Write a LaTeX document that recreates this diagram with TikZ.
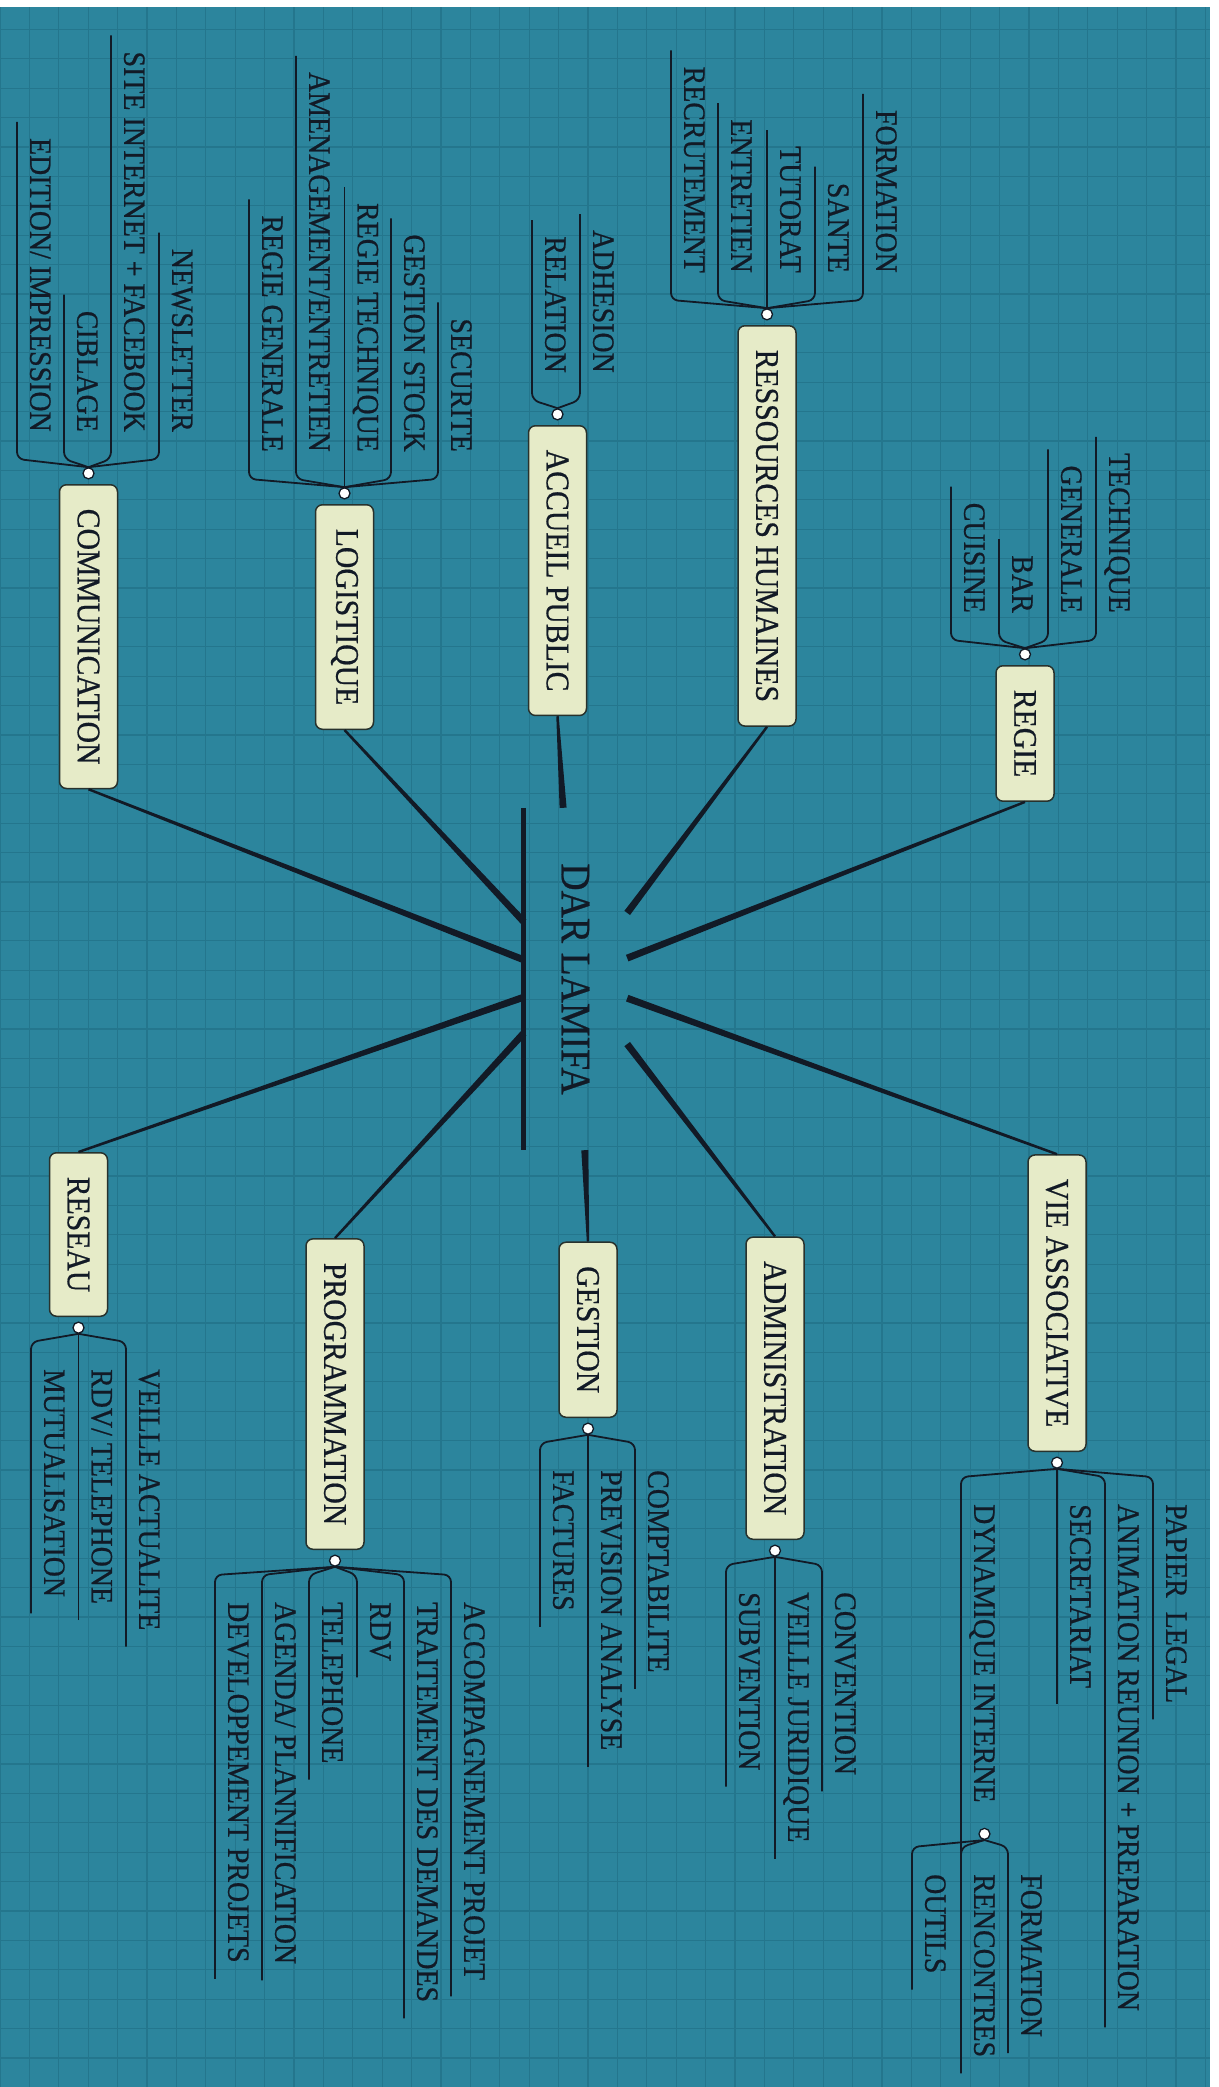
\documentclass[tikz,border=0pt]{standalone}
\usepackage{fontspec}
\setmainfont[FakeStretch=0.9,FakeBold=0.6]{Liberation Serif}
\usetikzlibrary{positioning,calc}
\definecolor{sea}{RGB}{44,133,157}
\definecolor{seagrid}{RGB}{36,118,141}
\definecolor{ink}{RGB}{18,26,38}
\definecolor{boxfill}{RGB}{230,235,200}
\definecolor{boxline}{RGB}{40,50,45}

\begin{document}
\begin{tikzpicture}[
    x=1pt,y=1pt,
    topic/.style={draw=boxline,fill=boxfill,rounded corners=7pt,line width=1.5pt,minimum height=58pt,inner xsep=24pt,text=ink,font=\fontsize{33}{35}\selectfont},
    leaf/.style={inner xsep=16pt,inner ysep=13pt,text depth=0pt,text=ink,font=\fontsize{31}{33}\selectfont},
    knob/.style={circle,draw=ink,fill=white,line width=1.3pt,minimum size=11pt,inner sep=0pt},
    twig/.style={draw=ink,line width=1.8pt,rounded corners=7pt},
    leafL/.style={to path={(\tikztotarget.south west) -- ($(\tikztotarget.south east)!-11pt!(\tikztotarget.south west)$) -- (\tikztostart)}},
    leafR/.style={to path={(\tikztotarget.south east) -- ($(\tikztotarget.south west)!-11pt!(\tikztotarget.south east)$) -- (\tikztostart)}},
    spoke/.style={fill=ink,to path={($(\tikztostart)!1.2pt!90:(\tikztotarget)$) -- ($(\tikztotarget)!3.5pt!-90:(\tikztostart)$) -- ($(\tikztotarget)!3.5pt!90:(\tikztostart)$) -- ($(\tikztostart)!1.2pt!-90:(\tikztotarget)$) -- cycle}},
    hub/.style={minimum width=342pt,minimum height=103pt,inner sep=0pt,text=ink,font=\fontsize{42}{44}\selectfont},
  ]
  \useasboundingbox (0,0) rectangle (1218,-2087);
  \fill[white] (0,0) rectangle (1218,-2087);
  \fill[sea] (0,-7) rectangle (1210,-2087);
  \draw[seagrid,line width=1.2pt,step=29.4pt] (0,-7) grid (1210,-2087);

  % the map is laid out left to right, then turned
  \begin{scope}[rotate=-90,transform shape]
  \node[hub] (hub) at (979,575.5) {DAR LAMIFA};
  \draw[ink,line width=5pt] (hub.south west) -- (hub.south east);

  \node[topic,anchor=west] (comm) at (484,88.5) {COMMUNICATION};
  \node[topic,anchor=west] (logi) at (504,344.5) {LOGISTIQUE};
  \node[topic,anchor=west] (accu) at (425,557.5) {ACCUEIL PUBLIC};
  \node[topic,anchor=west] (rh) at (325,767) {RESSOURCES HUMAINES};
  \node[topic,anchor=west] (regie) at (665,1025) {REGIE};
  \node[topic,anchor=east] (vie) at (1452,1057) {VIE ASSOCIATIVE};
  \node[topic,anchor=east] (admin) at (1540,775) {ADMINISTRATION};
  \node[topic,anchor=east] (gest) at (1418,588) {GESTION};
  \node[topic,anchor=east] (prog) at (1550,335) {PROGRAMMATION};
  \node[topic,anchor=east] (reseau) at (1317,78.5) {RESEAU};

  \coordinate (pcomm) at ($(hub.south west)!.444!(hub.south east)$);
  \coordinate (plogi) at ($(hub.south west)!.333!(hub.south east)$);
  \coordinate (preseau) at ($(hub.south west)!.553!(hub.south east)$);
  \coordinate (pprog) at ($(hub.south west)!.658!(hub.south east)$);
  \coordinate (prh) at ($(hub.north west)!.307!(hub.north east)$);
  \coordinate (pregie) at ($(hub.north west)!.439!(hub.north east)$);
  \coordinate (pvie) at ($(hub.north west)!.556!(hub.north east)$);
  \coordinate (padmin) at ($(hub.north west)!.69!(hub.north east)$);
  \coordinate (paccu) at ($(hub.south west)!.38!(hub.north west)$);
  \coordinate (pgest) at ($(hub.south east)!.59!(hub.north east)$);

  \path[spoke] (comm.east) to (pcomm);
  \path[spoke] (logi.east) to (plogi);
  \path[spoke] (accu.east) to (paccu);
  \path[spoke] (rh.east) to (prh);
  \path[spoke] (regie.east) to (pregie);
  \path[spoke] (reseau.west) to (preseau);
  \path[spoke] (prog.west) to (pprog);
  \path[spoke] (gest.west) to (pgest);
  \path[spoke] (admin.west) to (padmin);
  \path[spoke] (vie.west) to (pvie);

  \node[knob,left=4.5pt of comm] (commdot) {};
  \node[knob,left=4.5pt of logi] (logidot) {};
  \node[knob,left=4.5pt of accu] (accudot) {};
  \node[knob,left=4.5pt of rh] (rhdot) {};
  \node[knob,left=4.5pt of regie] (regiedot) {};
  \node[knob,right=4.5pt of reseau] (reseaudot) {};
  \node[knob,right=4.5pt of prog] (progdot) {};
  \node[knob,right=4.5pt of gest] (gestdot) {};
  \node[knob,right=4.5pt of admin] (admindot) {};
  \node[knob,right=4.5pt of vie] (viedot) {};

  % communication
  \node[leaf,anchor=south east] (edit) at (448,17) {EDITION/ IMPRESSION};
  \node[leaf,anchor=south east] (cibl) at (448,64) {CIBLAGE};
  \node[leaf,anchor=south east] (site) at (448,111) {SITE INTERNET + FACEBOOK};
  \node[leaf,anchor=south east] (news) at (448,159) {NEWSLETTER};
  \draw[twig] (commdot.west) to[leafL] (edit);
  \draw[twig] (commdot.west) to[leafL] (cibl);
  \draw[twig] (commdot.west) to[leafL] (site);
  \draw[twig] (commdot.west) to[leafL] (news);

  % logistique
  \node[leaf,anchor=south east] (rgen) at (468,249) {REGIE GENERALE};
  \node[leaf,anchor=south east] (amen) at (468,296) {AMENAGEMENT/ENTRETIEN};
  \node[leaf,anchor=south east] (rtec) at (468,344.5) {REGIE TECHNIQUE};
  \node[leaf,anchor=south east] (stock) at (468,391) {GESTION STOCK};
  \node[leaf,anchor=south east] (secu) at (468,438) {SECURITE};
  \draw[twig] (logidot.west) to[leafL] (rgen);
  \draw[twig] (logidot.west) to[leafL] (amen);
  \draw[twig] (logidot.west) to[leafL] (rtec);
  \draw[twig] (logidot.west) to[leafL] (stock);
  \draw[twig] (logidot.west) to[leafL] (secu);

  % accueil public
  \node[leaf,anchor=south east] (rela) at (389,532) {RELATION};
  \node[leaf,anchor=south east] (adhe) at (389,580) {ADHESION};
  \draw[twig] (accudot.west) to[leafL] (rela);
  \draw[twig] (accudot.west) to[leafL] (adhe);

  % ressources humaines
  \node[leaf,anchor=south east] (recr) at (289,671) {RECRUTEMENT};
  \node[leaf,anchor=south east] (entr) at (289,718) {ENTRETIEN};
  \node[leaf,anchor=south east] (tuto) at (289,767) {TUTORAT};
  \node[leaf,anchor=south east] (sant) at (289,815) {SANTE};
  \node[leaf,anchor=south east] (form) at (289,863) {FORMATION};
  \draw[twig] (rhdot.west) to[leafL] (recr);
  \draw[twig] (rhdot.west) to[leafL] (entr);
  \draw[twig] (rhdot.west) to[leafL] (tuto);
  \draw[twig] (rhdot.west) to[leafL] (sant);
  \draw[twig] (rhdot.west) to[leafL] (form);

  % regie
  \node[leaf,anchor=south east] (cuis) at (629,951) {CUISINE};
  \node[leaf,anchor=south east] (bar) at (629,999) {BAR};
  \node[leaf,anchor=south east] (rgene) at (629,1048) {GENERALE};
  \node[leaf,anchor=south east] (rtech) at (629,1096) {TECHNIQUE};
  \draw[twig] (regiedot.west) to[leafL] (cuis);
  \draw[twig] (regiedot.west) to[leafL] (bar);
  \draw[twig] (regiedot.west) to[leafL] (rgene);
  \draw[twig] (regiedot.west) to[leafL] (rtech);

  % reseau
  \node[leaf,anchor=south west] (mutu) at (1353,31) {MUTUALISATION};
  \node[leaf,anchor=south west] (rdvt) at (1353,78.5) {RDV/ TELEPHONE};
  \node[leaf,anchor=south west] (veac) at (1353,126) {VEILLE ACTUALITE};
  \draw[twig] (reseaudot.east) to[leafR] (mutu);
  \draw[twig] (reseaudot.east) to[leafR] (rdvt);
  \draw[twig] (reseaudot.east) to[leafR] (veac);

  % programmation
  \node[leaf,anchor=south west] (devp) at (1586,215) {DEVELOPPEMENT PROJETS};
  \node[leaf,anchor=south west] (agen) at (1586,262) {AGENDA/ PLANNIFICATION};
  \node[leaf,anchor=south west] (tele) at (1586,309) {TELEPHONE};
  \node[leaf,anchor=south west] (rdv) at (1586,357) {RDV};
  \node[leaf,anchor=south west] (trai) at (1586,404) {TRAITEMENT DES DEMANDES};
  \node[leaf,anchor=south west] (acco) at (1586,451) {ACCOMPAGNEMENT PROJET};
  \draw[twig] (progdot.east) to[leafR] (devp);
  \draw[twig] (progdot.east) to[leafR] (agen);
  \draw[twig] (progdot.east) to[leafR] (tele);
  \draw[twig] (progdot.east) to[leafR] (rdv);
  \draw[twig] (progdot.east) to[leafR] (trai);
  \draw[twig] (progdot.east) to[leafR] (acco);

  % gestion
  \node[leaf,anchor=south west] (fact) at (1454,540) {FACTURES};
  \node[leaf,anchor=south west] (prev) at (1454,588) {PREVISION ANALYSE};
  \node[leaf,anchor=south west] (comp) at (1454,635) {COMPTABILITE};
  \draw[twig] (gestdot.east) to[leafR] (fact);
  \draw[twig] (gestdot.east) to[leafR] (prev);
  \draw[twig] (gestdot.east) to[leafR] (comp);

  % administration
  \node[leaf,anchor=south west] (subv) at (1576,726) {SUBVENTION};
  \node[leaf,anchor=south west] (veju) at (1576,775) {VEILLE JURIDIQUE};
  \node[leaf,anchor=south west] (conv) at (1576,822) {CONVENTION};
  \draw[twig] (admindot.east) to[leafR] (subv);
  \draw[twig] (admindot.east) to[leafR] (veju);
  \draw[twig] (admindot.east) to[leafR] (conv);

  % vie associative
  \node[leaf,anchor=south west] (dyna) at (1488,961) {DYNAMIQUE INTERNE};
  \node[leaf,anchor=south west] (secr) at (1488,1057) {SECRETARIAT};
  \node[leaf,anchor=south west] (anim) at (1488,1105) {ANIMATION REUNION + PREPARATION};
  \node[leaf,anchor=south west] (papi) at (1488,1153) {PAPIER\ \ LEGAL};
  \draw[twig] (viedot.east) to[leafR] (dyna);
  \draw[twig] (viedot.east) to[leafR] (secr);
  \draw[twig] (viedot.east) to[leafR] (anim);
  \draw[twig] (viedot.east) to[leafR] (papi);

  \node[knob,right=9pt of dyna] (dynadot) {};
  \node[leaf,anchor=south west] (outi) at (1858,912) {OUTILS};
  \node[leaf,anchor=south west] (renc) at (1858,961) {RENCONTRES};
  \node[leaf,anchor=south west] (forma) at (1858,1008) {FORMATION};
  \draw[twig] (dyna.south east) -- (renc.south west);
  \draw[twig] (dynadot.east) to[leafR] (outi);
  \draw[twig] (dynadot.east) to[leafR] (renc);
  \draw[twig] (dynadot.east) to[leafR] (forma);
  \end{scope}
\end{tikzpicture}
\end{document}
